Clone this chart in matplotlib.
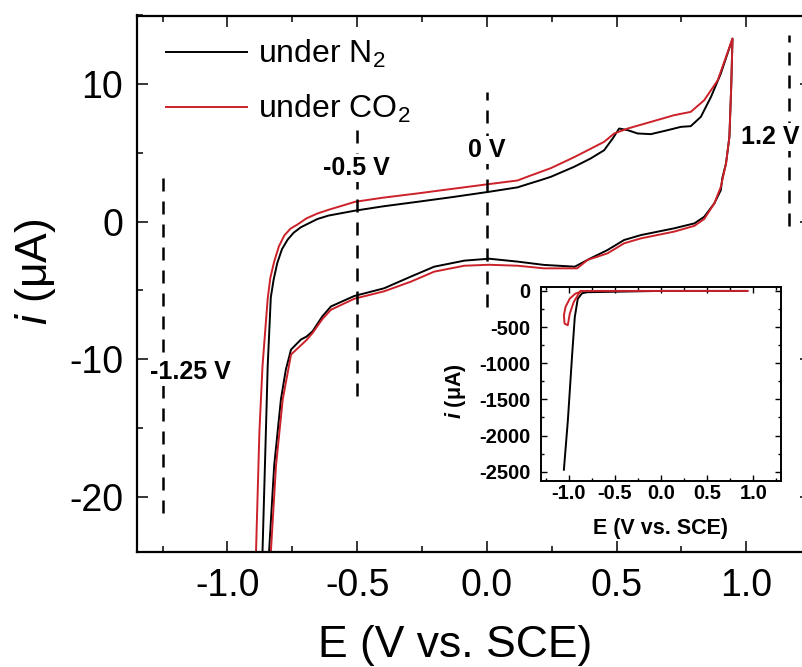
import matplotlib
matplotlib.use("Agg")
import matplotlib.pyplot as plt
from matplotlib.ticker import MultipleLocator

plt.rcParams['font.family'] = ['Liberation Sans', 'DejaVu Sans']
plt.rcParams['mathtext.fontset'] = 'custom'
plt.rcParams['mathtext.rm'] = 'Liberation Sans'
plt.rcParams['mathtext.it'] = 'Liberation Sans:italic'
plt.rcParams['mathtext.bf'] = 'Liberation Sans:italic:bold'
plt.rcParams['axes.unicode_minus'] = False

# CV under N2 (black): forward sweep then reverse sweep
n2_fwd_E = [-0.868, -0.852, -0.845, -0.833, -0.822, -0.808, -0.79, -0.768, -0.745, -0.717,
            -0.685, -0.653, -0.61, -0.51, -0.4, -0.267, -0.13, 0.009, 0.118, 0.16, 0.208,
            0.247, 0.337, 0.40, 0.452, 0.485, 0.51, 0.543, 0.581, 0.632, 0.697, 0.748,
            0.786, 0.825, 0.864, 0.902, 0.947]
n2_fwd_i = [-26, -15.3, -10.5, -5.5, -4.2, -3.0, -2.0, -1.3, -0.8, -0.4,
            -0.1, 0.2, 0.45, 0.8, 1.12, 1.45, 1.8, 2.18, 2.5, 2.75, 3.03,
            3.27, 4.0, 4.6, 5.2, 6.05, 6.78, 6.66, 6.42, 6.37, 6.66, 6.9,
            6.95, 7.63, 9.08, 10.78, 13.32]
n2_rev_E = [0.947, 0.942, 0.935, 0.922, 0.908, 0.902, 0.877, 0.838, 0.8, 0.722, 0.594,
            0.529, 0.465, 0.40, 0.339, 0.22, 0.118, 0.009, -0.087, -0.203, -0.293,
            -0.396, -0.511, -0.601, -0.635, -0.672, -0.695, -0.717, -0.755, -0.775,
            -0.794, -0.82, -0.846]
n2_rev_i = [13.32, 9.8, 6.17, 4.24, 3.2, 2.3, 1.34, 0.36, -0.12, -0.48, -0.97,
            -1.33, -2.06, -2.66, -3.27, -3.14, -2.9, -2.69, -2.83, -3.27, -3.99,
            -4.84, -5.4, -6.16, -6.9, -7.97, -8.35, -8.57, -9.3, -10.75,
            -12.92, -17.75, -26]

# CV under CO2 (red)
co2_fwd_E = [-0.893, -0.877, -0.865, -0.845, -0.835, -0.82, -0.802, -0.781, -0.757, -0.73,
             -0.695, -0.653, -0.61, -0.508, -0.4, -0.267, -0.13, 0.009, 0.118, 0.16, 0.208,
             0.247, 0.337, 0.452, 0.491, 0.543, 0.632, 0.722, 0.786, 0.838, 0.89, 0.947]
co2_fwd_i = [-26, -15.3, -10.5, -5.6, -4.1, -2.9, -1.8, -1.0, -0.5, -0.2,
             0.25, 0.6, 0.87, 1.45, 1.75, 2.06, 2.4, 2.74, 3.0, 3.3, 3.63,
             3.9, 4.7, 5.81, 6.42, 6.78, 7.26, 7.75, 7.99, 8.84, 10.29, 13.32]
co2_rev_E = [0.947, 0.942, 0.935, 0.922, 0.902, 0.877, 0.838, 0.8, 0.722, 0.594, 0.529,
             0.465, 0.388, 0.348, 0.22, 0.118, 0.009, -0.087, -0.203, -0.293, -0.396,
             -0.511, -0.601, -0.635, -0.672, -0.695, -0.755, -0.768, -0.787, -0.813, -0.839]
co2_rev_i = [13.32, 9.8, 6.17, 4.24, 2.54, 1.34, 0.2, -0.3, -0.72, -1.21, -1.57,
             -2.3, -2.78, -3.39, -3.39, -3.2, -3.13, -3.2, -3.63, -4.36, -5.06,
             -5.6, -6.4, -7.1, -8.09, -8.6, -9.66, -10.99, -12.92, -17.75, -26]

# inset: full potential window
ins_n2_E = [-1.052, -1.009, -0.962, -0.934, -0.902, -0.855, -0.8, 0.0, 0.92]
ins_n2_i = [-2473, -1791, -870, -363, -110, -32, -18, 0, 0]
ins_co2_E = [-0.855, -0.927, -0.988, -1.034, -1.052, -1.045, -1.01, -0.988, -0.945, -0.873, -0.8, 0.0, 0.94]
ins_co2_i = [-5, -37, -106, -221, -337, -452, -475, -313, -152, 0, 0, 0, 0]

# switching potentials marked with dashed lines
mark_E = [-1.25, -0.5, 0.0, 1.165]
mark_lo = [-21.2, -12.7, -6.2, -0.3]
mark_hi = [3.6, 7.0, 9.4, 13.6]
mark_text = ['-1.25 V', '-0.5 V', '0 V', '1.2 V']
mark_tx = [-1.143, -0.505, 0.0, 1.093]
mark_ty = [-10.9, 3.9, 5.2, 6.17]

main_xticks = [-1.0, -0.5, 0.0, 0.5, 1.0]
main_yticks = [-20, -10, 0, 10]
ins_xticks = [-1.0, -0.5, 0.0, 0.5, 1.0]
ins_yticks = [0, -500, -1000, -1500, -2000, -2500]

RED = '#cc2129'

fig = plt.figure(figsize=(8.02, 6.67), dpi=100)
W, H = 802, 667
ax = fig.add_axes([136.7 / W, (H - 551.7) / H, 674.4 / W, 536.2 / H])

ax.plot(n2_fwd_E + n2_rev_E, n2_fwd_i + n2_rev_i, color='black', lw=1.4, label='under N$_2$')
ax.plot(co2_fwd_E + co2_rev_E, co2_fwd_i + co2_rev_i, color=RED, lw=1.4, label='under CO$_2$')

for x, lo, hi in zip(mark_E, mark_lo, mark_hi):
    ax.plot([x, x], [lo, hi], color='black', lw=1.8, ls=(0, (5.2, 4)))
for t, x, y in zip(mark_text, mark_tx, mark_ty):
    ax.text(x, y, t, ha='center', va='center', fontsize=18, fontweight='bold',
            bbox=dict(fc='white', ec='none', pad=1.5))

ax.set_xlim(-1.35, 1.25)
ax.set_ylim(-24, 15)
ax.set_xticks(main_xticks)
ax.set_yticks(main_yticks)
ax.xaxis.set_minor_locator(MultipleLocator(0.25))
ax.yaxis.set_minor_locator(MultipleLocator(5))
ax.tick_params(which='both', direction='in', top=True, right=True, width=1.1)
ax.tick_params(which='major', length=8, labelsize=27)
ax.tick_params(which='minor', length=4.5)
ax.tick_params(axis='x', which='major', pad=11.5)
ax.tick_params(axis='y', which='major', pad=9.6)
for s in ax.spines.values():
    s.set_linewidth(1.6)

ax.set_xlabel('E (V vs. SCE)', fontsize=32, va='center', ha='center')
ax.xaxis.set_label_coords(0.4727, -0.1753)
ax.set_ylabel('$i$ (μA)', fontsize=32, va='center', ha='center')
ax.yaxis.set_label_coords(-0.1508, 0.5216)

ax.legend(loc='upper left', bbox_to_anchor=(0.0434, 0.958), frameon=False, fontsize=23,
          handlelength=2.53, handletextpad=0.34, labelspacing=0.72, borderpad=0,
          borderaxespad=0)

# inset
ax2 = fig.add_axes([541 / W, (H - 480.7) / H, 240 / W, 193.4 / H])
ax2.plot(ins_n2_E, ins_n2_i, color='black', lw=1.4)
ax2.plot(ins_co2_E, ins_co2_i, color=RED, lw=1.4)
ax2.set_xlim(-1.3, 1.3)
ax2.set_ylim(-2625, 50)
ax2.set_xticks(ins_xticks, labels=[f'{v:.1f}' for v in ins_xticks], fontweight='bold')
ax2.set_yticks(ins_yticks, labels=[str(v) for v in ins_yticks], fontweight='bold')
ax2.xaxis.set_minor_locator(MultipleLocator(0.25))
ax2.yaxis.set_minor_locator(MultipleLocator(250))
ax2.tick_params(which='both', direction='in', top=True, right=True, width=1.0, labelsize=14.5)
ax2.tick_params(which='major', length=4)
ax2.tick_params(which='minor', length=2.2)
ax2.tick_params(axis='x', pad=2.5)
ax2.tick_params(axis='y', pad=7.5)
for s in ax2.spines.values():
    s.set_linewidth(1.4)
ax2.set_xlabel('E (V vs. SCE)', fontsize=15.5, fontweight='bold', va='center', ha='center')
ax2.xaxis.set_label_coords(0.498, -0.245)
ax2.set_ylabel(r'$\mathbf{i}$ (μA)', fontsize=15.5, fontweight='bold', va='center', ha='center')
ax2.yaxis.set_label_coords(-0.358, 0.464)

fig.savefig('out.png', dpi=100)
